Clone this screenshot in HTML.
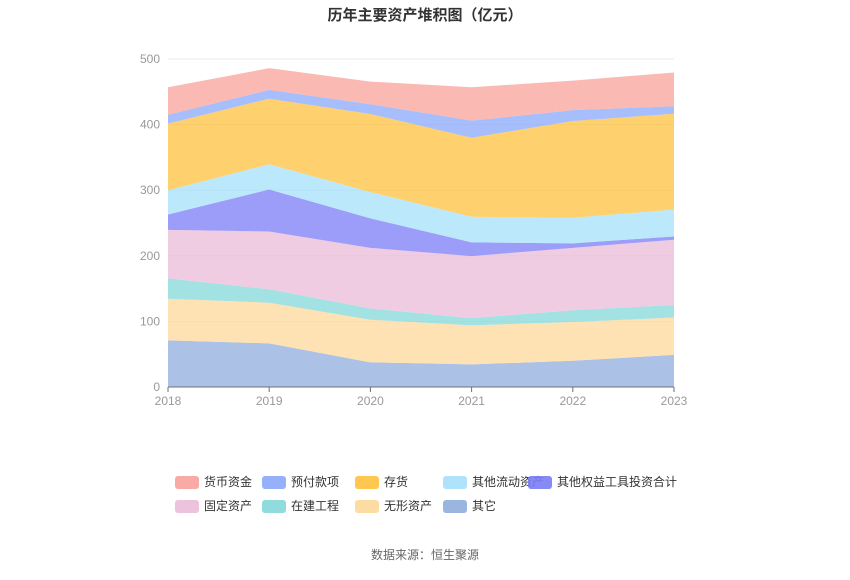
<!DOCTYPE html>
<html><head><meta charset="utf-8"><style>
body{margin:0;background:#fff;font-family:"Liberation Sans","Noto Sans CJK SC",sans-serif}
svg text{font-family:"Liberation Sans","Noto Sans CJK SC",sans-serif}
</style></head><body>
<svg id="chart" width="850" height="575" xmlns="http://www.w3.org/2000/svg">
<text x="425" y="20" text-anchor="middle" font-size="15" font-weight="bold" fill="#333">历年主要资产堆积图（亿元）</text>
<g id="grid"></g><g id="areas"></g><g id="axes"></g><g id="legend"></g>
<text x="425" y="559" text-anchor="middle" font-size="12" fill="#666">数据来源：恒生聚源</text>
</svg>
<script>
const years = ["2018","2019","2020","2021","2022","2023"];
const seriesNames = ["货币资金","预付款项","存货","其他流动资产","其他权益工具投资合计","固定资产","在建工程","无形资产","其它"];
const cash = [42,33,34.5,51,45,51.5];
const prepay = [13.5,13.5,15,26,16.5,11.5];
const inventory = [101.5,100,119,120.5,147.5,146];
const otherCurrent = [37,38.5,40,39,39,41];
const equityInv = [23.5,64,45,21,7,5];
const fixedAssets = [74,88,92.5,94.5,95,99.5];
const construction = [31,20.5,17,11,18,19];
const intangible = [63.5,62,65,59.5,59,57];
const others = [71,66.5,37.6,34.5,40,49];
const yTicks = [0,100,200,300,400,500];
const colors = ["#f9a19a","#8aa8fb","#fec13d","#a5e0fb","#7a7cf5","#ebbbd9","#84d8d8","#fdd89a","#8faedd"];
const seriesData = [cash,prepay,inventory,otherCurrent,equityInv,fixedAssets,construction,intangible,others];
const NS="http://www.w3.org/2000/svg";
const x0=168,x1=674,yBase=387,yTop=59;
const xs=i=>x0+(x1-x0)*i/(years.length-1);
const ys=v=>yBase-(yBase-yTop)*v/500;
function mk(t,a,p){const e=document.createElementNS(NS,t);for(const k in a)e.setAttribute(k,a[k]);p.appendChild(e);return e;}
const grid=document.getElementById('grid'),axes=document.getElementById('axes'),areas=document.getElementById('areas'),legend=document.getElementById('legend');
yTicks.forEach(t=>{
  if(t>0){const l=mk('line',{x1:x0,x2:x1,y1:ys(t),y2:ys(t),stroke:'#e6e9f0'},grid);
  
  }
  const tx=mk('text',{x:160,y:ys(t)+4,'text-anchor':'end','font-size':12,fill:'#999'},axes);tx.textContent=t;
  
  
});
// stack from bottom (last series at bottom)
let base=years.map(()=>0);
const layers=[];
for(let s=seriesData.length-1;s>=0;s--){
  const top=base.map((b,i)=>b+seriesData[s][i]);
  let d='M'+years.map((_,i)=>xs(i)+','+ys(top[i])).join('L');
  for(let i=years.length-1;i>=0;i--)d+='L'+xs(i)+','+ys(base[i]);
  d+='Z';
  const p=mk('path',{d:d,fill:colors[s],'fill-opacity':0.75},areas);
  
  
  base=top;
}
const ax=mk('line',{x1:x0,x2:x1,y1:yBase,y2:yBase,stroke:'#6e7079'},axes);


years.forEach((y,i)=>{
  mk('line',{x1:xs(i),x2:xs(i),y1:yBase,y2:yBase+5,stroke:'#6e7079'},axes);
  const tx=mk('text',{x:xs(i),y:405,'text-anchor':'middle','font-size':12,fill:'#999'},axes);tx.textContent=y;
  
  
});
const lx=[175,262,355,443,528,175,262,355,443];
seriesNames.forEach((n,i)=>{
  const row=i<5?0:1;const y=row?506:482;
  const g=mk('g',{},legend);
  
  
  mk('rect',{x:lx[i],y:y-6,width:24,height:13,rx:3,fill:colors[i],'fill-opacity':0.9},g);
  const t=mk('text',{x:lx[i]+29,y:y+4,'font-size':12,fill:'#333'},g);t.textContent=n;
});
</script>
</body></html>
